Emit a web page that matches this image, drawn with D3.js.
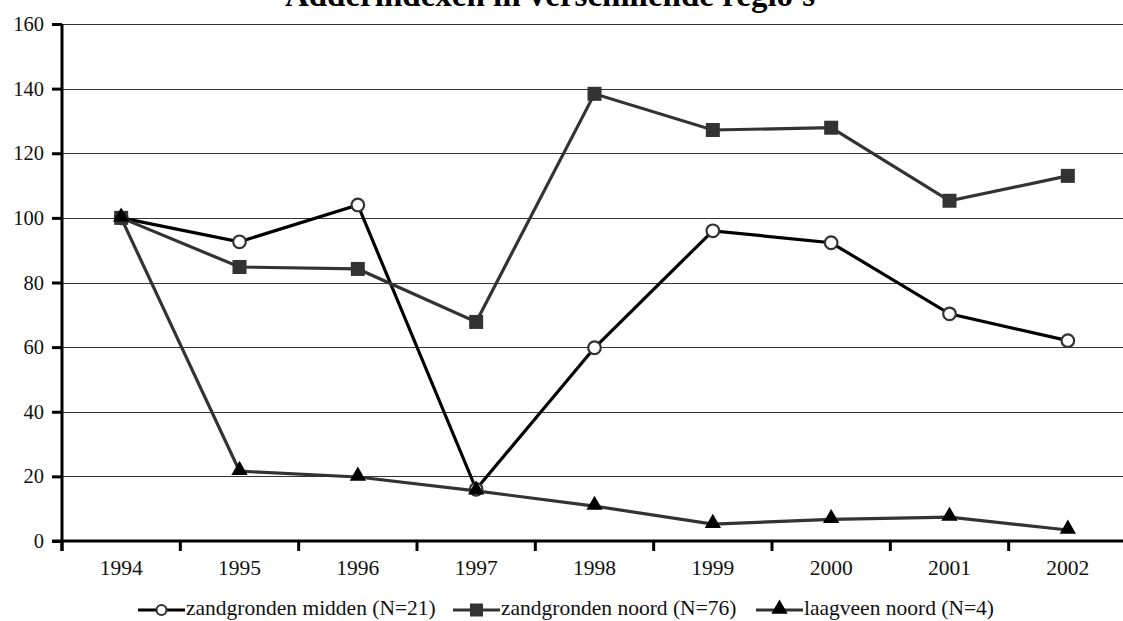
<!DOCTYPE html>
<html><head><meta charset="utf-8">
<script src="https://cdn.jsdelivr.net/npm/d3@7"></script>
<style>body{margin:0;background:#fff}svg{display:block}text{font-family:"Liberation Serif","Times New Roman",serif}</style>
</head><body><svg id="c" width="1123" height="621"></svg>
<script>
const title = "Adderindexen in verschillende regio's";
const years = ["1994","1995","1996","1997","1998","1999","2000","2001","2002"];
const yTicks = [0,20,40,60,80,100,120,140,160];
const seriesNames = ["zandgronden midden (N=21)","zandgronden noord (N=76)","laagveen noord (N=4)"];
const midden = [100,92.6,104,16,59.8,96,92.3,70.3,62];
const noord = [100,84.8,84.2,67.8,138.4,127.2,127.9,105.3,113];
const laagveen = [100,21.6,19.8,15.5,10.8,5.2,6.7,7.4,3.4];

const svg = d3.select("#c");
const L = 62, R = 1127, T = 24, B = 541;
const x = d3.scaleBand().domain(years).range([L, R]);
const y = d3.scaleLinear().domain([0,160]).range([B, T]);
const cx = d => x(d) + x.bandwidth()/2;

// title
svg.append("text").attr("x", 550).attr("y", 6).attr("text-anchor","middle")
  .attr("font-size", 33).attr("font-weight","bold").text(title);

// gridlines
svg.append("g").selectAll("line").data(yTicks.filter(v=>v>0)).join("line")
  .attr("x1", L).attr("x2", R).attr("y1", d=>Math.round(y(d))+0.5).attr("y2", d=>Math.round(y(d))+0.5)
  .attr("stroke","#333").attr("stroke-width",1.2);

// y axis
const ya = svg.append("g").attr("transform",`translate(${L},0)`)
  .call(d3.axisLeft(y).tickValues(yTicks).tickSize(10).tickPadding(8).tickFormat(d3.format("d")));
ya.select(".domain").attr("stroke","#000").attr("stroke-width",3).attr("d",`M0,${T}V${B+10}`);
ya.selectAll(".tick line").attr("stroke","#000").attr("stroke-width",3);
ya.selectAll(".tick text").attr("font-size",20.5).attr("fill","#111");

// x axis
const xa = svg.append("g").attr("transform",`translate(0,${B})`)
  .call(d3.axisBottom(x).tickSize(0).tickPadding(19));
xa.select(".domain").attr("stroke","#000").attr("stroke-width",3).attr("d",`M${L-10},0H${R}`);
xa.selectAll(".tick text").attr("font-size",21.5).attr("fill","#111");
svg.append("g").selectAll("line").data(d3.range(years.length+1)).join("line")
  .attr("x1", i=>L + i*x.step()).attr("x2", i=>L + i*x.step())
  .attr("y1", B).attr("y2", B+10).attr("stroke","#000").attr("stroke-width",3);

const line = d3.line().x((d,i)=>cx(years[i])).y(d=>y(d));
const tri = d3.symbol(d3.symbolTriangle, 115);

function drawSeries(vals, color, type){
  const g = svg.append("g");
  g.append("path").attr("d", line(vals)).attr("fill","none").attr("stroke",color).attr("stroke-width",3.2);
  vals.forEach((v,i)=>{
    const px = cx(years[i]), py = y(v);
    if(type==="circle") g.append("circle").attr("cx",px).attr("cy",py).attr("r",6.3).attr("fill","#fff").attr("stroke","#333").attr("stroke-width",2.2);
    if(type==="square") g.append("rect").attr("x",px-7).attr("y",py-7).attr("width",14).attr("height",14).attr("fill","#333");
    if(type==="tri") g.append("path").attr("d",tri()).attr("transform",`translate(${px},${py-1})`).attr("fill","#000");
  });
}
drawSeries(midden, "#000", "circle");
drawSeries(noord, "#333", "square");
drawSeries(laagveen, "#333", "tri");

// legend
const legX = [138, 453, 756];
const legTypes = ["circle","square","tri"];
const legColors = ["#000","#333","#333"];
const ly = 610;
seriesNames.forEach((name,i)=>{
  const g = svg.append("g");
  const x0 = legX[i];
  g.append("line").attr("x1",x0).attr("x2",x0+47).attr("y1",ly).attr("y2",ly).attr("stroke",legColors[i]).attr("stroke-width",3.2);
  const mx = x0+23.5;
  if(legTypes[i]==="circle") g.append("circle").attr("cx",mx).attr("cy",ly).attr("r",5).attr("fill","#fff").attr("stroke","#333").attr("stroke-width",2.2);
  if(legTypes[i]==="square") g.append("rect").attr("x",mx-6.5).attr("y",ly-6.5).attr("width",13).attr("height",13).attr("fill","#333");
  if(legTypes[i]==="tri") g.append("path").attr("d",tri()).attr("transform",`translate(${mx},${ly-1})`).attr("fill","#000");
  g.append("text").attr("x",x0+48).attr("y",ly+5).attr("font-size",21.5).attr("fill","#111").text(name);
});
</script></body></html>
